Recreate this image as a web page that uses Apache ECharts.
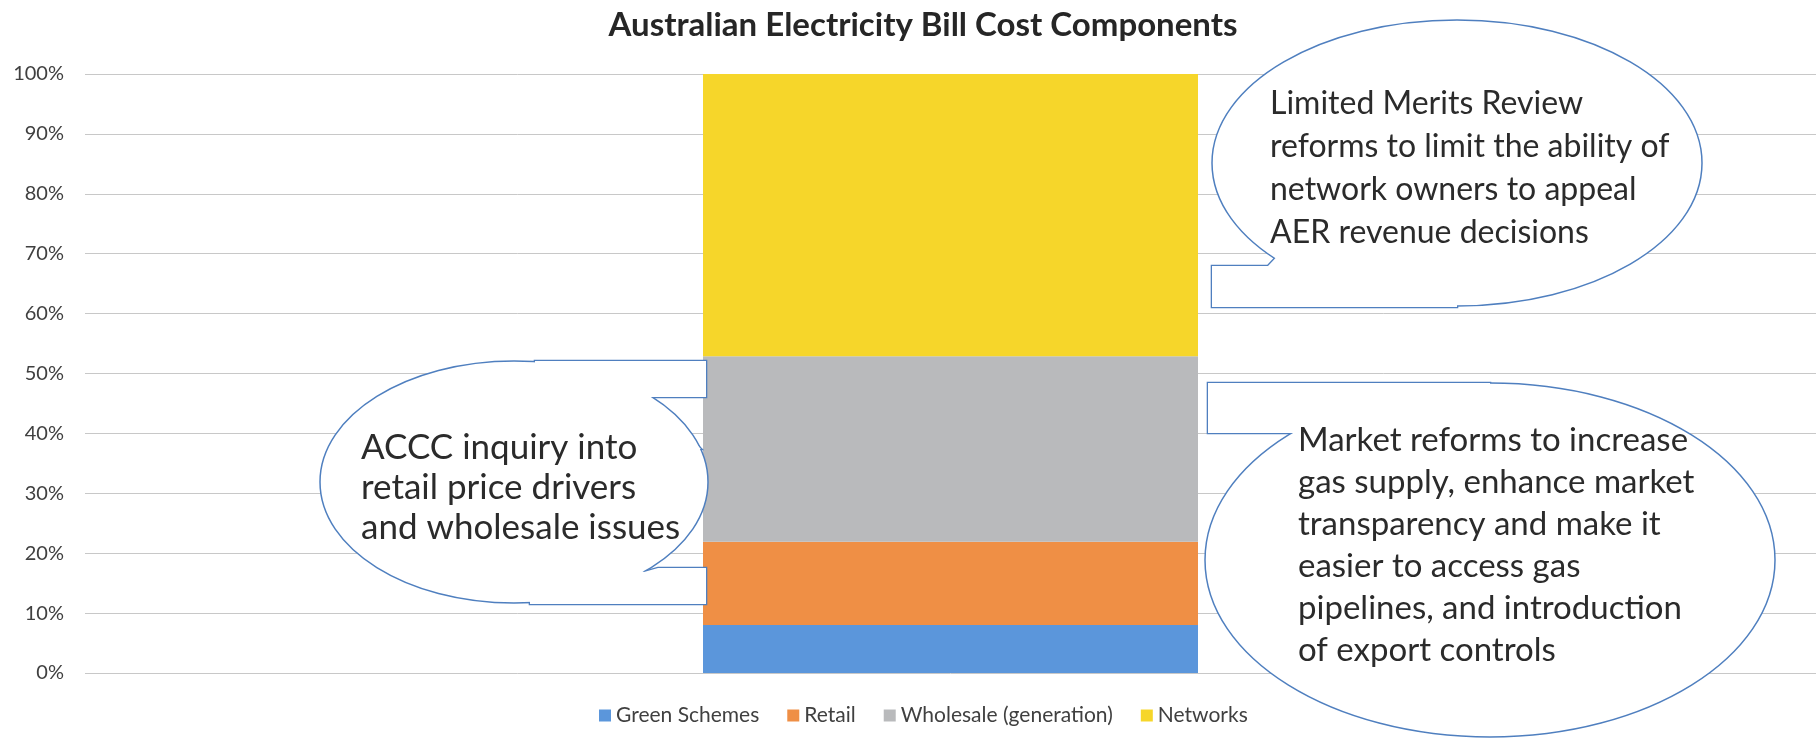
<!DOCTYPE html>
<html>
<head>
<meta charset="utf-8">
<script src="https://cdn.jsdelivr.net/npm/echarts@6/dist/echarts.min.js"></script>
<style>
html,body{margin:0;padding:0;background:#fff;}
#chart{width:1816px;height:741px;}
</style>
</head>
<body>
<div id="chart"></div>
<script>
// ---- data ----
const categories = ['Bill'];
const seriesNames = ['Green Schemes', 'Retail', 'Wholesale (generation)', 'Networks'];
const greenSchemes = [8.0];
const retail = [13.9];
const wholesale = [31.0];
const networks = [47.1];
const titleText = 'Australian Electricity Bill Cost Components';
const calloutNetworks = ['Limited Merits Review', 'reforms to limit the ability of', 'network owners to appeal', 'AER revenue decisions'];
const calloutRetail = ['ACCC inquiry into', 'retail price drivers', 'and wholesale issues'];
const calloutWholesale = ['Market reforms to increase', 'gas supply, enhance market', 'transparency and make it', 'easier to access gas', 'pipelines, and introduction', 'of export controls'];

// ---- styles ----
const colors = ['#5b96db', '#ef8f45', '#b9babc', '#f6d62a'];
const FONT = 'Lato, "Open Sans", sans-serif';
const STROKE = '#4f7fbf';

function callout(ellipse, tails, lines, tx, ty, lh, fs, zBase) {
  const els = [];
  tails.forEach(function (pts) {
    els.push({ type: 'polygon', z: zBase, shape: { points: pts },
      style: { fill: '#ffffff', stroke: STROKE, lineWidth: 2.6 } });
  });
  els.push({ type: 'ellipse', z: zBase + 1, shape: ellipse,
    style: { fill: '#ffffff', stroke: STROKE, lineWidth: 1.5 } });
  tails.forEach(function (pts) {
    els.push({ type: 'polygon', z: zBase + 2, shape: { points: pts },
      style: { fill: '#ffffff', stroke: null, lineWidth: 0 } });
  });
  els.push({ type: 'text', z: zBase + 3, x: tx, y: ty,
    style: { text: lines.join('\n'), font: fs + 'px ' + FONT, lineHeight: lh, fill: '#2b2b2b',
      align: 'left', verticalAlign: 'top' } });
  return els;
}

const graphics = [].concat(
  callout({ cx: 514, cy: 482, rx: 194, ry: 121 },
    [
      [[535, 361], [706, 361], [706, 397], [648, 397], [701, 449], [600, 450], [535, 380]],
      [[620, 560], [644, 572], [658, 568], [706, 568], [706, 604], [530, 604], [530, 580]]
    ], calloutRetail, 361, 428, 40, 35, 100),
  callout({ cx: 1457, cy: 163, rx: 245, ry: 143 },
    [
      [[1285, 248], [1268, 266], [1212, 266], [1212, 307], [1457, 307], [1457, 250]]
    ], calloutNetworks, 1270, 82, 43, 32, 110),
  callout({ cx: 1490, cy: 560, rx: 285, ry: 177 },
    [
      [[1490, 420], [1490, 383], [1208, 383], [1208, 433], [1310, 433], [1282, 456], [1400, 460]]
    ], calloutWholesale, 1298, 419, 42, 33, 120)
);

const dataSets = [greenSchemes, retail, wholesale, networks];

const chart = echarts.init(document.getElementById('chart'), null, { renderer: 'canvas' });
chart.setOption({
  animation: false,
  backgroundColor: '#ffffff',
  color: colors,
  title: {
    text: titleText,
    left: 918,
    textAlign: 'center',
    top: 4,
    textStyle: { fontFamily: FONT, fontWeight: 'bold', fontSize: 33, color: '#262626' }
  },
  legend: {
    data: seriesNames,
    left: 599,
    top: 705,
    padding: 0,
    icon: 'rect',
    itemWidth: 12,
    itemHeight: 12,
    itemGap: 28,
    textStyle: { fontFamily: FONT, fontSize: 21, color: '#404040' }
  },
  grid: { left: 85, right: -4, top: 74, bottom: 68, containLabel: false },
  xAxis: {
    type: 'category',
    data: categories,
    axisLine: { show: false },
    axisTick: { show: false },
    axisLabel: { show: false },
    splitLine: { show: false }
  },
  yAxis: {
    type: 'value',
    min: 0,
    max: 100,
    interval: 10,
    axisLine: { show: false },
    axisTick: { show: false },
    axisLabel: { formatter: '{value}%', fontFamily: FONT, fontSize: 20, color: '#404040', margin: 21 },
    splitLine: { lineStyle: { color: '#c8c8c8', width: 1 } }
  },
  series: seriesNames.map(function (name, i) {
    return {
      name: name,
      type: 'bar',
      stack: 'total',
      barWidth: 495,
      data: dataSets[i],
      itemStyle: { color: colors[i] }
    };
  }),
  graphic: graphics
});
</script>
</body>
</html>
